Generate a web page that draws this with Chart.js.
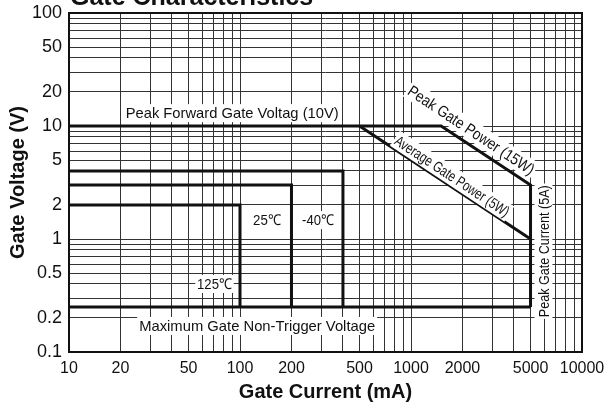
<!DOCTYPE html>
<html>
<head>
<meta charset="utf-8">
<script src="https://cdn.jsdelivr.net/npm/chart.js@4.4.1/dist/chart.umd.min.js"></script>
<style>
  html, body { margin: 0; padding: 0; background: #fff; }
  #wrap { width: 606px; height: 406px; }
</style>
</head>
<body>
<div id="wrap"><canvas id="gateChart" width="606" height="406"></canvas></div>
<script>
// tick labels printed on the axes
const currentTicks = [10, 20, 50, 100, 200, 500, 1000, 2000, 5000, 10000];
const voltageTicks = [0.1, 0.2, 0.5, 1, 2, 5, 10, 20, 50, 100];

// peak limits: forward voltage 10V -> peak power 15W -> peak current 5A
const peakCurrent = [10, 1500, 5000, 5000];
const peakVoltage = [10, 10, 3, 0.25];

// average gate power 5W
const avgCurrent = [500, 5000];
const avgVoltage = [10, 1];

// maximum gate non-trigger voltage
const nonTrigCurrent = [10, 5000];
const nonTrigVoltage = [0.25, 0.25];

// trigger areas per junction temp
const tempLabels = ['125℃', '25℃', '-40℃'];
const tempCurrent = [100, 200, 400];
const tempVoltage = [2, 3, 4];

const FONT = '"Liberation Sans", Arial, Helvetica, sans-serif';

function pts(xs, ys) {
    return xs.map((x, i) => ({ x: x, y: ys[i] }));
}

// 1..9 grid lines in every decade
function logGrid(min, max) {
    const out = [];
    for (let e = Math.round(Math.log10(min)); e < Math.round(Math.log10(max)); e++) {
        for (let m = 1; m < 10; m++) out.push(Number((m * Math.pow(10, e)).toPrecision(6)));
    }
    out.push(max);
    return out;
}

const thick = { borderColor: '#111', borderWidth: 3, pointRadius: 0, showLine: true, fill: false, tension: 0 };

const datasets = [
    Object.assign({ label: 'Peak', data: pts(peakCurrent, peakVoltage) }, thick),
    Object.assign({ label: 'Average Gate Power', data: pts(avgCurrent, avgVoltage) }, thick),
    Object.assign({ label: 'Non-Trigger', data: pts(nonTrigCurrent, nonTrigVoltage) }, thick)
];
tempLabels.forEach((t, k) => {
    datasets.push(Object.assign({
        label: t,
        data: [
            { x: currentTicks[0], y: tempVoltage[k] },
            { x: tempCurrent[k], y: tempVoltage[k] },
            { x: tempCurrent[k], y: nonTrigVoltage[0] }
        ]
    }, thick));
});

// text with white box, squeezed to a given width
function boxedText(ctx, text, x, y, angle, size, width) {
    ctx.save();
    ctx.translate(x, y);
    ctx.rotate(angle);
    ctx.font = size + 'px ' + FONT;
    const w = ctx.measureText(text).width;
    ctx.scale(width ? width / w : 1, 1);
    ctx.fillStyle = '#fff';
    ctx.fillRect(-w / 2 - 2, -size * 0.6, w + 4, size * 1.2);
    ctx.fillStyle = '#111';
    ctx.textAlign = 'center';
    ctx.textBaseline = 'middle';
    ctx.fillText(text, 0, 1);
    ctx.restore();
}

const decorPlugin = {
    id: 'decor',
    afterDatasetsDraw(chart) {
        const ctx = chart.ctx;
        const a = chart.chartArea;
        const xs = chart.scales.x, ys = chart.scales.y;
        const px = v => xs.getPixelForValue(v);
        const py = v => ys.getPixelForValue(v);

        // frame
        ctx.save();
        ctx.strokeStyle = '#111';
        ctx.lineWidth = 2;
        ctx.strokeRect(a.left, a.top, a.right - a.left, a.bottom - a.top);
        ctx.restore();

        boxedText(ctx, 'Peak Forward Gate Voltag (10V)', px(90), py(13), 0, 15, 213);
        boxedText(ctx, '25℃', px(144), py(1.47), 0, 15, 28);
        boxedText(ctx, '-40℃', px(286), py(1.47), 0, 15, 32);
        boxedText(ctx, '125℃', px(71), py(0.4), 0, 15, 35);
        boxedText(ctx, 'Maximum Gate Non-Trigger Voltage', px(126), py(0.17), 0, 15, 236);
        boxedText(ctx, 'Peak Gate Current (5A)', px(5950), py(0.78), -Math.PI / 2, 15, 132);

        const ang1 = Math.atan2(py(peakVoltage[2]) - py(peakVoltage[1]), px(peakCurrent[2]) - px(peakCurrent[1]));
        boxedText(ctx, 'Peak Gate Power (15W)', px(2250), py(9.2), ang1, 16, 148);
        const ang2 = Math.atan2(py(avgVoltage[1]) - py(avgVoltage[0]), px(avgCurrent[1]) - px(avgCurrent[0]));
        boxedText(ctx, 'Average Gate Power (5W)', px(1740), py(3.6), ang2, 15, 134);

        // title, cut off at the top of the picture
        ctx.save();
        ctx.font = 'bold 25px ' + FONT;
        ctx.fillStyle = '#111';
        ctx.textAlign = 'left';
        ctx.textBaseline = 'alphabetic';
        ctx.fillText('Gate Characteristics', a.left + 1, 5);
        ctx.restore();
    }
};

const ctx = document.getElementById('gateChart');
new Chart(ctx, {
    type: 'scatter',
    data: { datasets: datasets },
    plugins: [decorPlugin],
    options: {
        responsive: false,
        animation: false,
        events: [],
        layout: { padding: { top: 13, right: 24, left: 0, bottom: 0 } },
        plugins: { legend: { display: false }, tooltip: { enabled: false } },
        scales: {
            x: {
                type: 'logarithmic',
                min: 10,
                max: 10000,
                afterBuildTicks: s => { s.ticks = logGrid(10, 10000).map(v => ({ value: v })); },
                afterFit: s => { s.height = 54; s.paddingLeft = 0; s.paddingRight = 0; },
                grid: { color: '#333', lineWidth: 1, drawTicks: false },
                border: { display: false },
                ticks: {
                    autoSkip: false, maxRotation: 0, padding: 7, color: '#111',
                    font: { family: FONT, size: 16 },
                    callback: v => currentTicks.includes(v) ? String(v) : ''
                },
                title: {
                    display: true, text: 'Gate Current (mA)', color: '#111',
                    font: { family: FONT, size: 20, weight: 'bold' },
                    padding: { top: 0, bottom: 2 }
                }
            },
            y: {
                type: 'logarithmic',
                min: 0.1,
                max: 100,
                afterBuildTicks: s => { s.ticks = logGrid(0.1, 100).map(v => ({ value: v })); },
                afterFit: s => { s.width = 69; s.paddingTop = 0; s.paddingBottom = 0; },
                grid: { color: '#333', lineWidth: 1, drawTicks: false },
                border: { display: false },
                ticks: {
                    autoSkip: false, padding: 7, color: '#111',
                    font: { family: FONT, size: 18 },
                    callback: v => voltageTicks.includes(v) ? String(v) : ''
                },
                title: {
                    display: true, text: 'Gate Voltage (V)', color: '#111',
                    font: { family: FONT, size: 20, weight: 'bold' },
                    padding: { top: 6, bottom: 0 }
                }
            }
        }
    }
});
</script>
</body>
</html>
